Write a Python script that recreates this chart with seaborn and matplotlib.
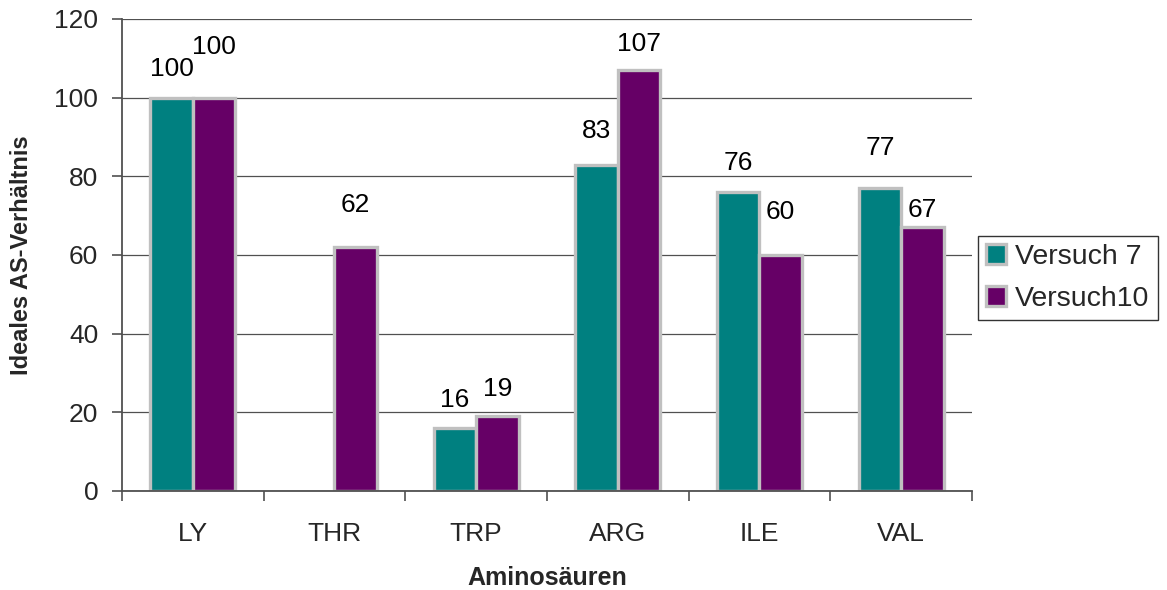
import numpy as np
import pandas as pd
import matplotlib
matplotlib.use("Agg")
import matplotlib.pyplot as plt
import seaborn as sns

# Amino acid ratios for two trials
categories = ["LY", "THR", "TRP", "ARG", "ILE", "VAL"]
versuch_7 = [100, np.nan, 16, 83, 76, 77]
versuch_10 = [100, 62, 19, 107, 60, 67]
series_names = ["Versuch 7", "Versuch10"]
y_ticks = [0, 20, 40, 60, 80, 100, 120]

colors = ["#008080", "#660066"]
edge_grey = "#C0C0C0"
axis_grey = "#505050"

df = pd.DataFrame({
    "Aminosäure": categories * 2,
    "Wert": versuch_7 + versuch_10,
    "Serie": [series_names[0]] * len(categories) + [series_names[1]] * len(categories),
})

sns.set_theme(style="white")
plt.rcParams["font.family"] = ["Liberation Sans", "DejaVu Sans"]

fig = plt.figure(figsize=(11.67, 5.90), dpi=100)
ax = fig.add_axes([0.1045, 0.1678, 0.7284, 0.8000])

sns.barplot(data=df, x="Aminosäure", y="Wert", hue="Serie", order=categories,
            hue_order=series_names, palette=colors, saturation=1, width=0.6,
            dodge=True, edgecolor=edge_grey, linewidth=2.4, errorbar=None,
            ax=ax, legend=True)

ax.set_ylim(0, 120)
ax.set_xlim(-0.5, len(categories) - 0.5)
ax.set_yticks(y_ticks)
ax.set_yticklabels([str(t) for t in y_ticks], fontsize=19)
ax.yaxis.grid(True, color=axis_grey, linewidth=0.9)
ax.set_axisbelow(True)

# category labels centred, tick marks on category boundaries
ax.set_xticks(range(len(categories)))
ax.set_xticklabels(categories, fontsize=19)
ax.set_xticks(np.arange(-0.5, len(categories)), minor=True)
ax.tick_params(axis="x", which="major", length=0, pad=22)
ax.tick_params(axis="x", which="minor", length=7, width=1.2, color=axis_grey,
               direction="out", bottom=True)
ax.tick_params(axis="y", which="major", length=7, width=1.2, color=axis_grey,
               direction="out", left=True, pad=10)

for side in ["top", "right"]:
    ax.spines[side].set_visible(False)
for side in ["left", "bottom"]:
    ax.spines[side].set_color(axis_grey)
    ax.spines[side].set_linewidth(1.3)

ax.set_xlabel("Aminosäuren", fontsize=18, fontweight="bold")
ax.set_ylabel("Ideales AS-Verhältnis", fontsize=17, fontweight="bold")
ax.xaxis.label.set_va("center")
ax.yaxis.label.set_va("center")
ax.xaxis.set_label_coords(0.5, -0.184)
ax.yaxis.set_label_coords(-0.1176, 0.5)

# value labels, lifted individually (pixels from bar top to label centre)
label_lift = [
    [29, None, 28, 34, 29, 40],
    [51, 42, 27, 26, 43, 17],
]
for container, lifts in zip(ax.containers, label_lift):
    for bar in container:
        h = bar.get_height()
        if np.isnan(h):
            continue
        xc = bar.get_x() + bar.get_width() / 2
        lift = lifts[int(round(xc))]
        ax.annotate(f"{h:.0f}", (xc, h), xytext=(0, lift),
                    textcoords="offset pixels", ha="center", va="center",
                    fontsize=19, color="black")

leg = ax.legend(loc="center left", bbox_to_anchor=(1.007, 0.451), fontsize=20.5,
                frameon=True, fancybox=False, edgecolor="black",
                handlelength=0.7, handleheight=0.7, handletextpad=0.3,
                borderpad=0.3, labelspacing=0.55, borderaxespad=0)
leg.get_frame().set_linewidth(1.0)
for h in leg.legend_handles:
    h.set_edgecolor(edge_grey)
    h.set_linewidth(2.4)

fig.savefig("out.png", dpi=100)
